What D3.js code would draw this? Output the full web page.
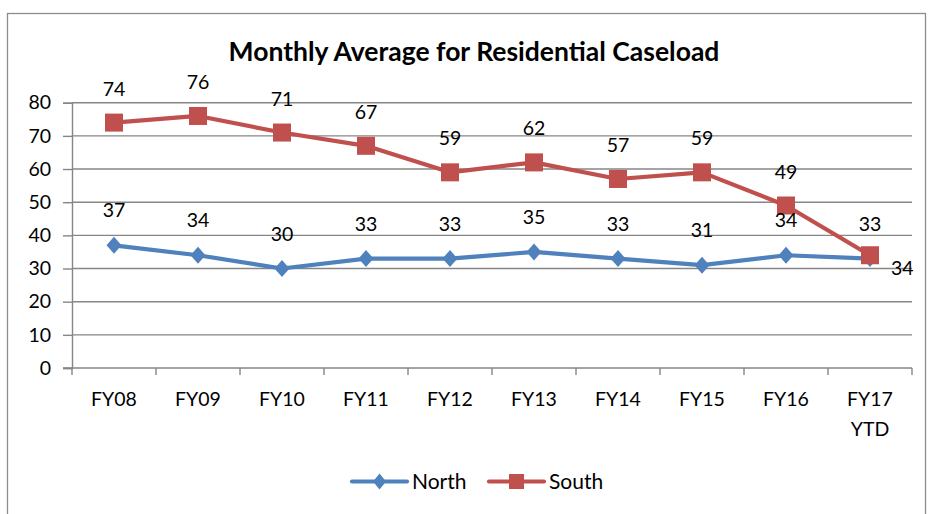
<!DOCTYPE html>
<html>
<head>
<meta charset="utf-8">
<script src="https://cdn.jsdelivr.net/npm/d3@7"></script>
<style>
  html, body { margin: 0; padding: 0; background: #fff; }
  svg { display: block; font-family: Lato, "Open Sans", sans-serif; }
</style>
</head>
<body>
<svg id="chart" width="933" height="514"></svg>
<script>
// Fiscal years shown on the category axis
const categories = ["FY08", "FY09", "FY10", "FY11", "FY12", "FY13", "FY14", "FY15", "FY16", "FY17\nYTD"];
// Monthly average residential caseload per region
const northValues = [37, 34, 30, 33, 33, 35, 33, 31, 34, 33];
const southValues = [74, 76, 71, 67, 59, 62, 57, 59, 49, 34];
const yTicks = [0, 10, 20, 30, 40, 50, 60, 70, 80];
const titleText = "Monthly Average for Residential Caseload";
const seriesNames = ["North", "South"];

const svg = d3.select("#chart");
const margin = { left: 72, right: 21, top: 102.7, bottom: 146 };
const W = 933, H = 514;

const x = d3.scaleBand().domain(categories).range([margin.left, W - margin.right]).padding(0);
const y = d3.scaleLinear().domain([0, 80]).range([368, margin.top]);

const gridColor = "#868686";
const blue = "#4F81BD", red = "#C0504D";
const labelSize = 19.5;

// Chart frame
svg.append("rect")
  .attr("x", 7.5).attr("y", 13.5).attr("width", 918).attr("height", 520)
  .attr("fill", "none").attr("stroke", "#8c8c8c").attr("stroke-width", 1.3);

// Title
svg.append("text")
  .attr("x", 474).attr("y", 61)
  .attr("text-anchor", "middle")
  .attr("font-size", 26.5).attr("font-weight", "bold").attr("fill", "#000")
  .text(titleText);

// Horizontal gridlines
svg.append("g").selectAll("line").data(yTicks.filter(d => d > 0)).join("line")
  .attr("x1", margin.left).attr("x2", W - margin.right)
  .attr("y1", d => y(d)).attr("y2", d => y(d))
  .attr("stroke", gridColor).attr("stroke-width", 1.4);

// Y axis
const yAxis = svg.append("g")
  .attr("transform", `translate(${margin.left},0)`)
  .call(d3.axisLeft(y).tickValues(yTicks).tickSize(9).tickPadding(12));
yAxis.select(".domain").attr("stroke", gridColor).attr("stroke-width", 1.4);
yAxis.selectAll(".tick line").attr("stroke", gridColor).attr("stroke-width", 1.4);
yAxis.selectAll(".tick text").attr("font-size", labelSize).attr("fill", "#000")
  .attr("font-family", "Lato, sans-serif");

// X axis line with ticks at category boundaries
const xAxisG = svg.append("g");
xAxisG.append("line")
  .attr("x1", margin.left - 9).attr("x2", W - margin.right)
  .attr("y1", y(0)).attr("y2", y(0))
  .attr("stroke", gridColor).attr("stroke-width", 1.4);
const boundaries = categories.map(c => x(c)).concat([x(categories[categories.length - 1]) + x.bandwidth()]);
xAxisG.selectAll("line.tk").data(boundaries).join("line")
  .attr("class", "tk")
  .attr("x1", d => d).attr("x2", d => d)
  .attr("y1", y(0)).attr("y2", y(0) + 7)
  .attr("stroke", gridColor).attr("stroke-width", 1.4);
xAxisG.selectAll("text").data(categories).join("text")
  .attr("x", d => x(d) + x.bandwidth() / 2)
  .attr("y", 406)
  .attr("text-anchor", "middle").attr("font-size", labelSize).attr("fill", "#000")
  .each(function (d) {
    const parts = d.split("\n");
    d3.select(this).selectAll("tspan").data(parts).join("tspan")
      .attr("x", x(d) + x.bandwidth() / 2)
      .attr("dy", (p, i) => i === 0 ? 0 : 30)
      .text(p => p);
  });

const cx = (d, i) => x(categories[i]) + x.bandwidth() / 2;
const line = d3.line().x(cx).y(d => y(d));

const diamond = (sx, sy) => `M0,${-sy}L${sx},0L0,${sy}L${-sx},0Z`;

// North series
svg.append("path").datum(northValues)
  .attr("d", line).attr("fill", "none").attr("stroke", blue)
  .attr("stroke-width", 4.2).attr("stroke-linejoin", "round").attr("stroke-linecap", "round");
svg.append("g").selectAll("path").data(northValues).join("path")
  .attr("transform", (d, i) => `translate(${cx(d, i)},${y(d)})`)
  .attr("d", diamond(7.5, 8.5)).attr("fill", blue);

// South series
svg.append("path").datum(southValues)
  .attr("d", line).attr("fill", "none").attr("stroke", red)
  .attr("stroke-width", 4.2).attr("stroke-linejoin", "round").attr("stroke-linecap", "round");
svg.append("g").selectAll("rect").data(southValues).join("rect")
  .attr("x", (d, i) => cx(d, i) - 9).attr("y", d => y(d) - 9)
  .attr("width", 18).attr("height", 18).attr("fill", red);

// Data labels: above the point, except South's final value sits to the right
const labels = [];
northValues.forEach((v, i) => labels.push({ v, x: cx(v, i), y: y(v) - 28, anchor: "middle" }));
southValues.forEach((v, i) => {
  if (i === southValues.length - 1) labels.push({ v, x: cx(v, i) + 21, y: y(v) + 20, anchor: "start" });
  else labels.push({ v, x: cx(v, i), y: y(v) - 27, anchor: "middle" });
});
svg.append("g").selectAll("text").data(labels).join("text")
  .attr("x", d => d.x).attr("y", d => d.y)
  .attr("text-anchor", d => d.anchor)
  .attr("font-size", labelSize).attr("fill", "#000")
  .text(d => d.v);

// Legend
const legend = svg.append("g");
const legendItems = [
  { name: seriesNames[0], color: blue, x0: 352, type: "diamond" },
  { name: seriesNames[1], color: red, x0: 489, type: "square" }
];
const ly = 481.5;
legendItems.forEach(it => {
  legend.append("line")
    .attr("x1", it.x0).attr("x2", it.x0 + 55).attr("y1", ly).attr("y2", ly)
    .attr("stroke", it.color).attr("stroke-width", 4.2).attr("stroke-linecap", "round");
  if (it.type === "diamond") {
    legend.append("path").attr("transform", `translate(${it.x0 + 27.5},${ly})`)
      .attr("d", diamond(6.5, 8)).attr("fill", it.color);
  } else {
    legend.append("rect").attr("x", it.x0 + 27.5 - 7.5).attr("y", ly - 7.5)
      .attr("width", 15).attr("height", 15).attr("fill", it.color);
  }
  legend.append("text")
    .attr("x", it.x0 + 60).attr("y", ly + 7.5)
    .attr("font-size", 21).attr("fill", "#000")
    .text(it.name);
});
</script>
</body>
</html>
